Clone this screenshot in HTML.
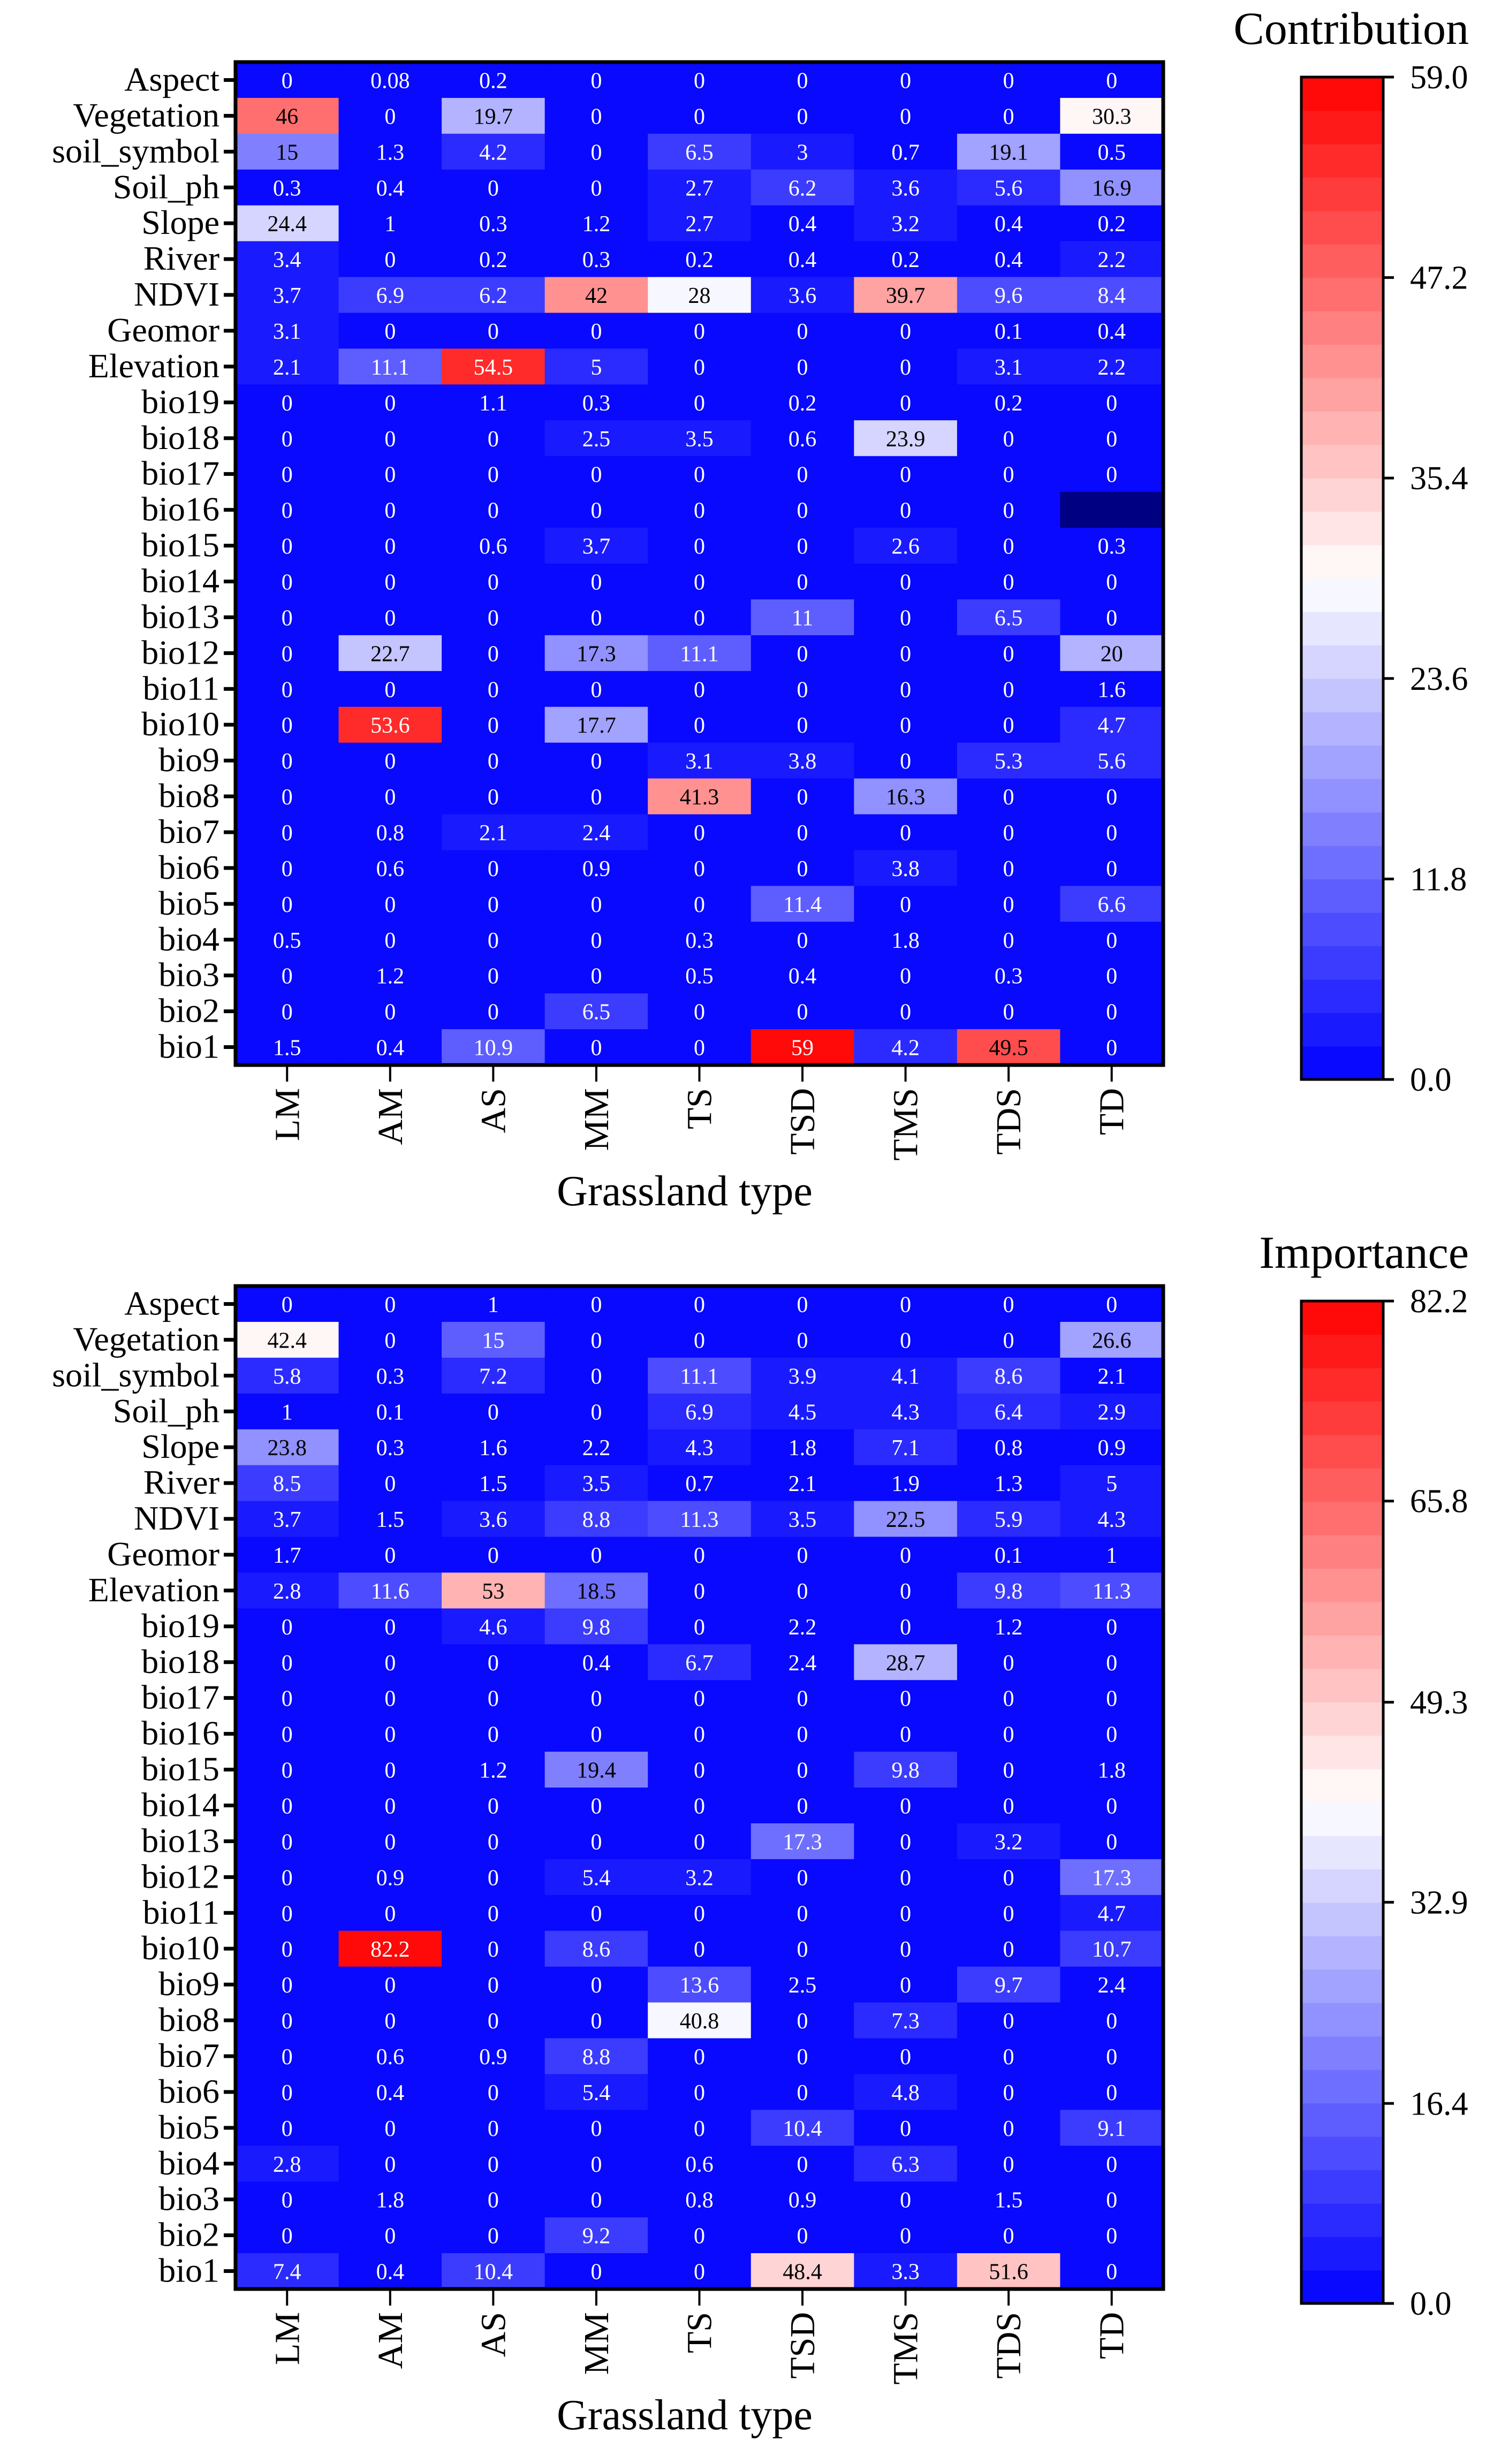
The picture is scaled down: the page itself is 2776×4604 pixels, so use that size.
<!DOCTYPE html>
<html><head><meta charset="utf-8">
<style>
html,body{margin:0;padding:0;background:#fff;}
svg{display:block;font-family:"Liberation Serif","DejaVu Serif",serif;}
</style></head>
<body>
<svg id="fig" xmlns="http://www.w3.org/2000/svg" width="2776" height="4604" viewBox="0 0 2776 4604"></svg>
<script>
const rowLabels = ["Aspect","Vegetation","soil_symbol","Soil_ph","Slope","River","NDVI","Geomor","Elevation","bio19","bio18","bio17","bio16","bio15","bio14","bio13","bio12","bio11","bio10","bio9","bio8","bio7","bio6","bio5","bio4","bio3","bio2","bio1"];
const colLabels = ["LM","AM","AS","MM","TS","TSD","TMS","TDS","TD"];
const contribution = [
[0,0.08,0.2,0,0,0,0,0,0],
[46,0,19.7,0,0,0,0,0,30.3],
[15,1.3,4.2,0,6.5,3,0.7,19.1,0.5],
[0.3,0.4,0,0,2.7,6.2,3.6,5.6,16.9],
[24.4,1,0.3,1.2,2.7,0.4,3.2,0.4,0.2],
[3.4,0,0.2,0.3,0.2,0.4,0.2,0.4,2.2],
[3.7,6.9,6.2,42,28,3.6,39.7,9.6,8.4],
[3.1,0,0,0,0,0,0,0.1,0.4],
[2.1,11.1,54.5,5,0,0,0,3.1,2.2],
[0,0,1.1,0.3,0,0.2,0,0.2,0],
[0,0,0,2.5,3.5,0.6,23.9,0,0],
[0,0,0,0,0,0,0,0,0],
[0,0,0,0,0,0,0,0,null],
[0,0,0.6,3.7,0,0,2.6,0,0.3],
[0,0,0,0,0,0,0,0,0],
[0,0,0,0,0,11,0,6.5,0],
[0,22.7,0,17.3,11.1,0,0,0,20],
[0,0,0,0,0,0,0,0,1.6],
[0,53.6,0,17.7,0,0,0,0,4.7],
[0,0,0,0,3.1,3.8,0,5.3,5.6],
[0,0,0,0,41.3,0,16.3,0,0],
[0,0.8,2.1,2.4,0,0,0,0,0],
[0,0.6,0,0.9,0,0,3.8,0,0],
[0,0,0,0,0,11.4,0,0,6.6],
[0.5,0,0,0,0.3,0,1.8,0,0],
[0,1.2,0,0,0.5,0.4,0,0.3,0],
[0,0,0,6.5,0,0,0,0,0],
[1.5,0.4,10.9,0,0,59,4.2,49.5,0]];
const importance = [
[0,0,1,0,0,0,0,0,0],
[42.4,0,15,0,0,0,0,0,26.6],
[5.8,0.3,7.2,0,11.1,3.9,4.1,8.6,2.1],
[1,0.1,0,0,6.9,4.5,4.3,6.4,2.9],
[23.8,0.3,1.6,2.2,4.3,1.8,7.1,0.8,0.9],
[8.5,0,1.5,3.5,0.7,2.1,1.9,1.3,5],
[3.7,1.5,3.6,8.8,11.3,3.5,22.5,5.9,4.3],
[1.7,0,0,0,0,0,0,0.1,1],
[2.8,11.6,53,18.5,0,0,0,9.8,11.3],
[0,0,4.6,9.8,0,2.2,0,1.2,0],
[0,0,0,0.4,6.7,2.4,28.7,0,0],
[0,0,0,0,0,0,0,0,0],
[0,0,0,0,0,0,0,0,0],
[0,0,1.2,19.4,0,0,9.8,0,1.8],
[0,0,0,0,0,0,0,0,0],
[0,0,0,0,0,17.3,0,3.2,0],
[0,0.9,0,5.4,3.2,0,0,0,17.3],
[0,0,0,0,0,0,0,0,4.7],
[0,82.2,0,8.6,0,0,0,0,10.7],
[0,0,0,0,13.6,2.5,0,9.7,2.4],
[0,0,0,0,40.8,0,7.3,0,0],
[0,0.6,0.9,8.8,0,0,0,0,0],
[0,0.4,0,5.4,0,0,4.8,0,0],
[0,0,0,0,0,10.4,0,0,9.1],
[2.8,0,0,0,0.6,0,6.3,0,0],
[0,1.8,0,0,0.8,0.9,0,1.5,0],
[0,0,0,9.2,0,0,0,0,0],
[7.4,0.4,10.4,0,0,48.4,3.3,51.6,0]];
const contribTicks = ["0.0","11.8","23.6","35.4","47.2","59.0"];
const importTicks = ["0.0","16.4","32.9","49.3","65.8","82.2"];
const contribMax = 59.0;
const importMax = 82.2;

const NS = "http://www.w3.org/2000/svg";
const svg = document.getElementById('fig');
function mk(tag, attrs, parent, text){
  const e = document.createElementNS(NS, tag);
  for (const k in attrs) e.setAttribute(k, attrs[k]);
  if (text !== undefined) e.textContent = text;
  (parent||svg).appendChild(e);
  return e;
}
const NB = 30;
function bwr(t){
  t = Math.max(0, Math.min(1, t));
  let r,g,b;
  if (t < 0.5){ r = g = Math.round(255*t*2); b = 255; }
  else { r = 255; g = b = Math.round(255*(1-t)*2); }
  return `rgb(${r},${g},${b})`;
}
function bandT(v, max){
  let k = Math.floor(v/max*NB); if (k >= NB) k = NB-1; if (k<0) k=0;
  return (k+0.5)/NB;
}

function drawPanel(dy, values, max, ticks, title, key){
  const L = 440, R = 2173, T = 116+dy, B = 1990+dy;
  const cw = (R-L)/colLabels.length, rh = (B-T)/rowLabels.length;
  const xPos = c => L + c*cw;
  const yPos = r => T + r*rh;
  const g = mk('g', {});
  
  
  for (let r=0; r<rowLabels.length; r++){
    for (let c=0; c<colLabels.length; c++){
      const v = values[r][c];
      const fill = v === null ? 'rgb(0,0,130)' : bwr(bandT(v, max));
      const cell = mk('rect', {x:xPos(c), y:yPos(r), width:cw+0.6, height:rh+0.6, fill:fill}, g);
      
      
      if (v !== null){
        const t = v/max;
        const col = (t > 0.22 && t < 0.84) ? '#000' : '#fff';
        const tx = mk('text', {x:xPos(c)+cw/2, y:yPos(r)+rh/2+15, 'font-size':42, 'text-anchor':'middle', fill:col}, g, String(v));
        
        
      }
    }
  }
  const fr = mk('rect', {x:L, y:T, width:R-L, height:B-T, fill:'none', stroke:'#000', 'stroke-width':7});
  
  
  for (let r=0; r<rowLabels.length; r++){
    const yc = yPos(r)+rh/2;
    mk('line', {x1:L-22, x2:L, y1:yc, y2:yc, stroke:'#000', 'stroke-width':7});
    const t = mk('text', {x:L-30, y:yc+20, 'font-size':64, 'text-anchor':'end', fill:'#000'}, svg, rowLabels[r]);
    
    
  }
  for (let c=0; c<colLabels.length; c++){
    const xc = xPos(c)+cw/2;
    mk('line', {x1:xc, x2:xc, y1:B, y2:B+31, stroke:'#000', 'stroke-width':4});
    const t = mk('text', {x:0, y:0, 'font-size':66, 'text-anchor':'end', fill:'#000', transform:`translate(${xc+22},${B+43}) rotate(-90)`}, svg, colLabels[c]);
    
    
  }
  const xt = mk('text', {x:1279, y:2252+dy, 'font-size':80, 'text-anchor':'middle', fill:'#000'}, svg, 'Grassland type');
  
  
  // colorbar
  const cL = 2431, cR = 2584, cT = 144+dy, cB = 2017+dy;
  const cb = mk('g', {});
  
  
  const bh = (cB-cT)/NB;
  for (let k=0; k<NB; k++){
    mk('rect', {x:cL, y:cB-(k+1)*bh, width:cR-cL, height:bh+0.7, fill:bwr((k+0.5)/NB)}, cb);
  }
  mk('rect', {x:cL, y:cT, width:cR-cL, height:cB-cT, fill:'none', stroke:'#000', 'stroke-width':5}, cb);
  for (let i=0; i<ticks.length; i++){
    const yy = cB - (cB-cT)*parseFloat(ticks[i])/max;
    mk('line', {x1:cR, x2:cR+20, y1:yy, y2:yy, stroke:'#000', 'stroke-width':5}, cb);
    const t = mk('text', {x:2634, y:yy+21, 'font-size':62, fill:'#000'}, cb, ticks[i]);
    
    
  }
  const tt = mk('text', {x:2744, y:82+dy, 'font-size':86, 'text-anchor':'end', fill:'#000'}, svg, title);
  
  
}
drawPanel(0, contribution, contribMax, contribTicks, 'Contribution', 'contribution');
drawPanel(2287, importance, importMax, importTicks, 'Importance', 'importance');
</script>
</body></html>
